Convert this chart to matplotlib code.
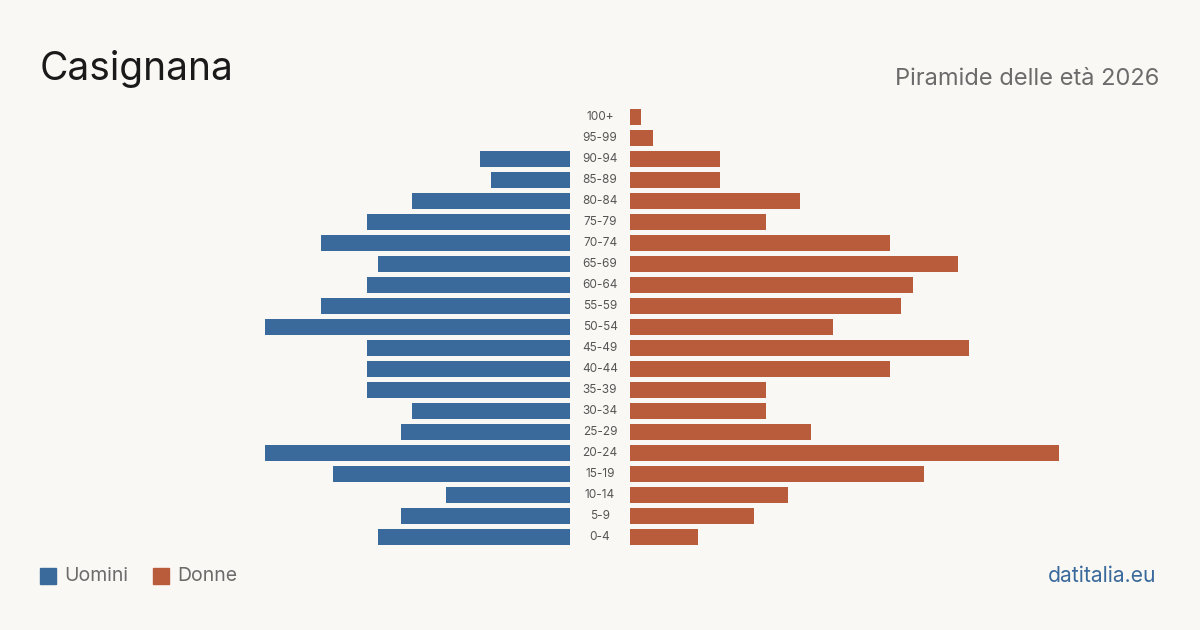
import matplotlib.pyplot as plt
from matplotlib.patches import Rectangle

age_groups = ["100+", "95-99", "90-94", "85-89", "80-84", "75-79", "70-74", "65-69",
              "60-64", "55-59", "50-54", "45-49", "40-44", "35-39", "30-34", "25-29",
              "20-24", "15-19", "10-14", "5-9", "0-4"]
men = [0, 0, 8, 7, 14, 18, 22, 17, 18, 22, 27, 18, 18, 18, 14, 15, 27, 21, 11, 15, 17]
women = [1, 2, 8, 8, 15, 12, 23, 29, 25, 24, 18, 30, 23, 12, 12, 16, 38, 26, 14, 11, 6]

BG = "#f9f8f4"
BLUE = "#3a6a9b"
ORANGE = "#b85c3c"
W, H = 1200, 630
SCALE = 11.3  # pixels per person

plt.rcParams["font.family"] = ["Inter", "DejaVu Sans"]
fig = plt.figure(figsize=(W / 100, H / 100), dpi=100, facecolor=BG)

def px_axes(x0, x1, y0, y1):
    # y measured from top in pixels
    return fig.add_axes([x0 / W, 1 - y1 / H, (x1 - x0) / W, (y1 - y0) / H])

top, bottom = 106.5, 547.5
ax_m = px_axes(200, 570, top, bottom)
ax_w = px_axes(630, 1110, top, bottom)
rows = list(range(len(age_groups)))

for ax, vals, col, width in [(ax_m, men, BLUE, 370), (ax_w, women, ORANGE, 480)]:
    ax.barh(rows, vals, height=0.8, color=col)
    ax.set_xlim(0, width / SCALE)
    ax.set_ylim(len(rows) - 0.5, -0.5)
    ax.axis("off")
ax_m.invert_xaxis()

for i, lab in enumerate(age_groups):
    fig.text(600 / W, 1 - (117 + 21 * i) / H, lab, ha="center", va="center",
             fontsize=8.5, color="#555555")

fig.text(40 / W, 1 - 80 / H, "Casignana", fontsize=28, color="#1a1a1a",
         ha="left", va="baseline")
fig.text(1159 / W, 1 - 85 / H, "Piramide delle età 2026", fontsize=17,
         color="#6b6b6b", ha="right", va="baseline")

for x, col, lab in [(40, BLUE, "Uomini"), (153, ORANGE, "Donne")]:
    fig.patches.append(Rectangle((x / W, 1 - 584 / H), 16 / W, 16 / H,
                                 transform=fig.transFigure, color=col))
    fig.text((x + 24) / W, 1 - 576 / H, lab, fontsize=14, color="#6b6b6b",
             ha="left", va="center")

fig.text(1156 / W, 1 - 576 / H, "datitalia.eu", fontsize=15.2, color=BLUE,
         ha="right", va="center")

fig.savefig("out.png", dpi=100, facecolor=BG)
